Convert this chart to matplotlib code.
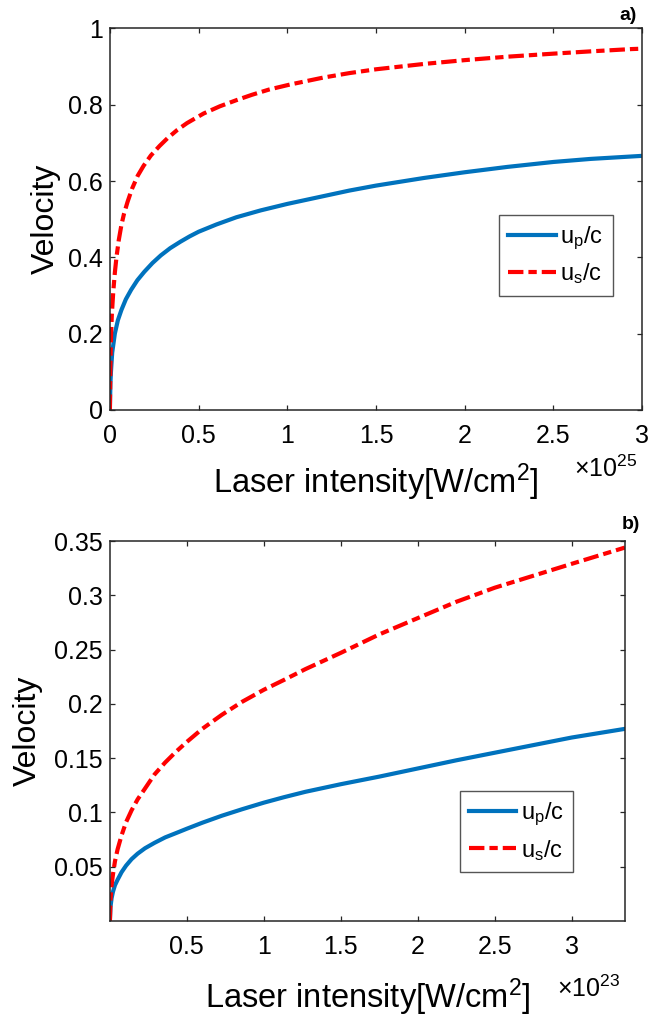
import matplotlib
matplotlib.use('Agg')

import matplotlib.pyplot as plt
import numpy as np

plt.rcParams['font.family'] = ['Liberation Sans', 'DejaVu Sans']
plt.rcParams['mathtext.fontset'] = 'custom'
plt.rcParams['mathtext.rm'] = 'Liberation Sans'
plt.rcParams['mathtext.it'] = 'Liberation Sans'
plt.rcParams['mathtext.bf'] = 'Liberation Sans:bold'

# panel a) intensity in units of 1e25 W/cm^2 (values read off the figure)
xa_p = [0, 0.003, 0.006, 0.013, 0.028, 0.045, 0.065, 0.09, 0.12, 0.155, 0.194,
        0.24, 0.287, 0.34, 0.398, 0.45, 0.5, 0.6, 0.713, 0.85, 1.0, 1.2, 1.35,
        1.5, 1.77, 2.0, 2.24, 2.5, 2.71, 3.0]
up_a = [0, 0.07, 0.10, 0.15, 0.20, 0.235, 0.262, 0.29, 0.315, 0.34, 0.362,
        0.385, 0.405, 0.424, 0.441, 0.455, 0.467, 0.486, 0.505, 0.523, 0.540,
        0.560, 0.575, 0.588, 0.608, 0.623, 0.637, 0.650, 0.658, 0.666]
xa_s = [0, 0.002, 0.004, 0.007, 0.011, 0.019, 0.028, 0.037, 0.05, 0.065, 0.08,
        0.10, 0.125, 0.157, 0.19, 0.231, 0.28, 0.324, 0.38, 0.435, 0.528, 0.62,
        0.713, 0.8, 0.898, 1.015, 1.2, 1.35, 1.5, 1.77, 2.0, 2.24, 2.5, 2.71,
        2.94, 3.0]
us_a = [0, 0.09, 0.15, 0.20, 0.25, 0.31, 0.36, 0.40, 0.445, 0.485, 0.515,
        0.546, 0.58, 0.614, 0.64, 0.667, 0.692, 0.712, 0.734, 0.752, 0.777,
        0.796, 0.812, 0.826, 0.840, 0.853, 0.871, 0.883, 0.893, 0.907, 0.917,
        0.926, 0.934, 0.940, 0.946, 0.947]

# panel b) intensity in units of 1e23 W/cm^2
xb = [0, 0.004, 0.011, 0.02, 0.033, 0.05, 0.076, 0.105, 0.141, 0.18, 0.228,
      0.29, 0.359, 0.43, 0.5, 0.6, 0.728, 0.86, 1.0, 1.13, 1.27, 1.5, 1.75,
      2.0, 2.25, 2.5, 2.75, 3.0, 3.346]
up_b = [0, 0.013, 0.021, 0.027, 0.033, 0.038, 0.045, 0.051, 0.057, 0.062,
        0.067, 0.072, 0.077, 0.081, 0.085, 0.0905, 0.097, 0.103, 0.109, 0.114,
        0.119, 0.126, 0.133, 0.1405, 0.148, 0.155, 0.162, 0.169, 0.177]
us_b = [0, 0.02, 0.033, 0.043, 0.055, 0.066, 0.079, 0.091, 0.102, 0.112,
        0.122, 0.135, 0.146, 0.156, 0.165, 0.177, 0.190, 0.202, 0.213, 0.222,
        0.232, 0.247, 0.264, 0.279, 0.294, 0.307, 0.318, 0.329, 0.344]

xticks_a = [0, 0.5, 1, 1.5, 2, 2.5, 3]
yticks_a = [0, 0.2, 0.4, 0.6, 0.8, 1]
xticks_b = [0.5, 1, 1.5, 2, 2.5, 3]
yticks_b = [0.05, 0.1, 0.15, 0.2, 0.25, 0.3, 0.35]

BLUE = '#0072BD'
RED = '#FF0000'
AXC = '#262626'

fig = plt.figure(figsize=(6.62, 10.17), dpi=100)
ax1 = fig.add_axes([0.166, 0.597, 0.804, 0.375])
ax2 = fig.add_axes([0.166, 0.0944, 0.778, 0.3736])


def style(ax):
    for s in ax.spines.values():
        s.set_color(AXC)
        s.set_linewidth(1.1)
    ax.tick_params(direction='in', top=True, right=True, length=3.6,
                   width=0.9, color=AXC, labelsize=18)
    ax.tick_params(axis='x', pad=10)
    ax.tick_params(axis='y', pad=5)


def draw(ax, xp, up, xs, us):
    ax.plot(xp, up, color=BLUE, lw=3, label=r'$\mathregular{u_p}$/c')
    ax.plot(xs, us, color=RED, lw=3, dashes=(3.7, 1.2, 2.0, 1.2),
            label=r'$\mathregular{u_s}$/c')


draw(ax1, xa_p, up_a, xa_s, us_a)
ax1.set_xlim(0, 3)
ax1.set_ylim(0, 1)
ax1.set_xticks(xticks_a)
ax1.set_xticklabels(['0', '0.5', '1', '1.5', '2', '2.5', '3'])
ax1.set_yticks(yticks_a)
ax1.set_yticklabels(['0', '0.2', '0.4', '0.6', '0.8', '1'])
style(ax1)

draw(ax2, xb, up_b, xb, us_b)
ax2.set_xlim(0, 3.346)
ax2.set_ylim(0, 0.35)
ax2.set_xticks(xticks_b)
ax2.set_xticklabels(['0.5', '1', '1.5', '2', '2.5', '3'])
ax2.set_yticks(yticks_b)
ax2.set_yticklabels(['0.05', '0.1', '0.15', '0.2', '0.25', '0.3', '0.35'])
style(ax2)

for ax, ly, vx, off, ox, oy in [(ax1, -0.189, -0.12, r'$\times 10^{25}$', 0.932, -0.155),
                                (ax2, -0.2, -0.159, r'$\times 10^{23}$', 0.93, -0.178)]:
    ax.set_xlabel(r'Laser intensity[W/cm$^2$]', fontsize=23.5)
    ax.xaxis.set_label_coords(0.5, ly)
    ax.xaxis.label.set_va('center')
    ax.set_ylabel('Velocity', fontsize=23)
    ax.yaxis.set_label_coords(vx, 0.5)
    ax.yaxis.label.set_va('center')
    ax.text(ox, oy, off, transform=ax.transAxes, fontsize=18,
            ha='center', va='center')

leg_kw = dict(loc='lower right', fontsize=17, handlelength=2.0,
              handletextpad=0.2, borderpad=0.4, labelspacing=0.4,
              borderaxespad=0, fancybox=False, edgecolor='#555555',
              framealpha=1)
leg1 = ax1.legend(bbox_to_anchor=(0.945, 0.299), **leg_kw)
leg2 = ax2.legend(bbox_to_anchor=(0.90, 0.129), **leg_kw)
for leg in (leg1, leg2):
    leg.get_frame().set_linewidth(1.0)

fig.text(0.949, 0.985, 'a)', fontsize=14, fontweight='bold', ha='center', va='center')
fig.text(0.953, 0.484, 'b)', fontsize=14, fontweight='bold', ha='center', va='center')

fig.savefig('out.png', dpi=100)
plt.close(fig)
